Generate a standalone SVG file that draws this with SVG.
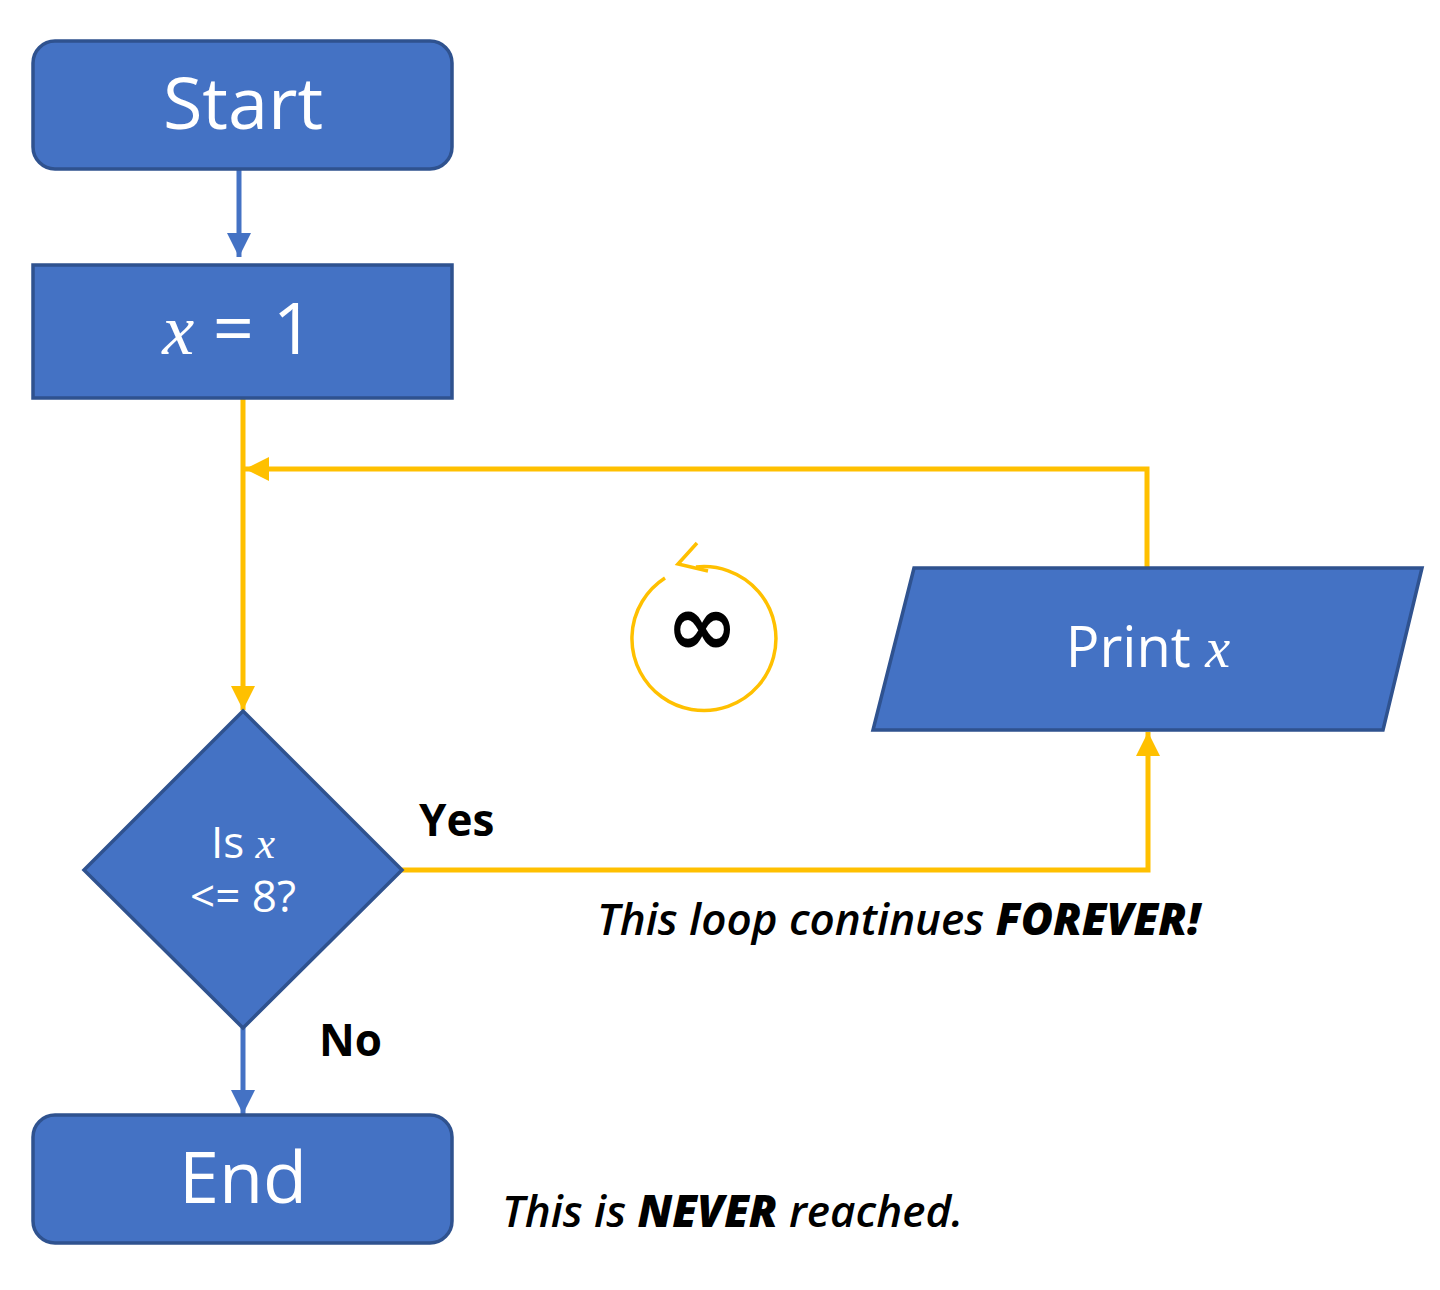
<svg xmlns="http://www.w3.org/2000/svg" width="1440" height="1290" viewBox="0 0 1440 1290">
<style>
.n{fill:#4472c4;stroke:#2f528f;stroke-width:3.5}
.t{font-family:"Open Sans","Noto Sans",sans-serif;fill:#fff;text-anchor:middle}
.m{font-family:"Liberation Serif",serif;font-style:italic}
.l{font-family:"Open Sans","Noto Sans",sans-serif;font-weight:700;fill:#000;font-size:44px}
.c{font-family:"Open Sans","Noto Sans",sans-serif;font-weight:600;font-style:italic;fill:#000;font-size:44px}
.y{fill:none;stroke:#ffc000;stroke-width:5}
.b{fill:none;stroke:#4472c4;stroke-width:5}
</style>
<defs>
<marker id="ay" markerUnits="userSpaceOnUse" markerWidth="26" markerHeight="26" refX="24" refY="13" orient="auto"><path d="M0 1L24 13L0 25Z" fill="#ffc000"/></marker>
<marker id="ab" markerUnits="userSpaceOnUse" markerWidth="26" markerHeight="26" refX="24" refY="13" orient="auto"><path d="M0 1L24 13L0 25Z" fill="#4472c4"/></marker>
</defs>
<rect width="1440" height="1290" fill="#fff"/>
<g id="connectors">
<path class="b" d="M239 170V257" marker-end="url(#ab)"/>
<path class="y" d="M243 399V710" marker-end="url(#ay)"/>
<path class="y" d="M1147 567V469H245" marker-end="url(#ay)"/>
<path class="y" d="M402 870H1148V732" marker-end="url(#ay)"/>
<path class="b" d="M243 1028V1114" marker-end="url(#ab)"/>
</g>
<g id="start"><rect class="n" x="33" y="41" width="419" height="128" rx="22"/><text class="t" x="243" y="129" font-size="72">Start</text></g>
<g id="init"><rect class="n" x="33" y="265" width="419" height="133"/><text class="t" x="238" y="354" font-size="72"><tspan class="m">x</tspan> = 1</text></g>
<g id="decision"><path class="n" d="M243 711L402 870L243 1028L84 870Z"/><text class="t" x="243" y="858" font-size="44">Is <tspan class="m">x</tspan></text><text class="t" x="243" y="912" font-size="44">&lt;= 8?</text></g>
<g id="print"><path class="n" d="M914 568H1422L1383 730H873Z"/><text class="t" x="1148" y="667" font-size="56">Print <tspan class="m">x</tspan></text></g>
<g id="end"><rect class="n" x="33" y="1115" width="419" height="128" rx="22"/><text class="t" x="243" y="1203" font-size="72">End</text></g>
<g id="loop-icon">
<path d="M696 567A72 72 0 1 1 665 578" fill="none" stroke="#ffc000" stroke-width="3.5" transform="rotate(0)"/>
<path d="M697 543L678 564L708 571" fill="none" stroke="#ffc000" stroke-width="3.5"/>
<text x="702" y="655" font-family="DejaVu Sans,sans-serif" font-weight="700" font-size="86" text-anchor="middle" fill="#000">∞</text>
</g>
<g id="labels">
<text class="l" x="419" y="836">Yes</text>
<text class="l" x="319" y="1056">No</text>
<text class="c" x="597" y="935">This loop continues <tspan font-weight="800">FOREVER!</tspan></text>
<text class="c" x="502" y="1227">This is <tspan font-weight="800">NEVER</tspan> reached.</text>
</g>
</svg>
